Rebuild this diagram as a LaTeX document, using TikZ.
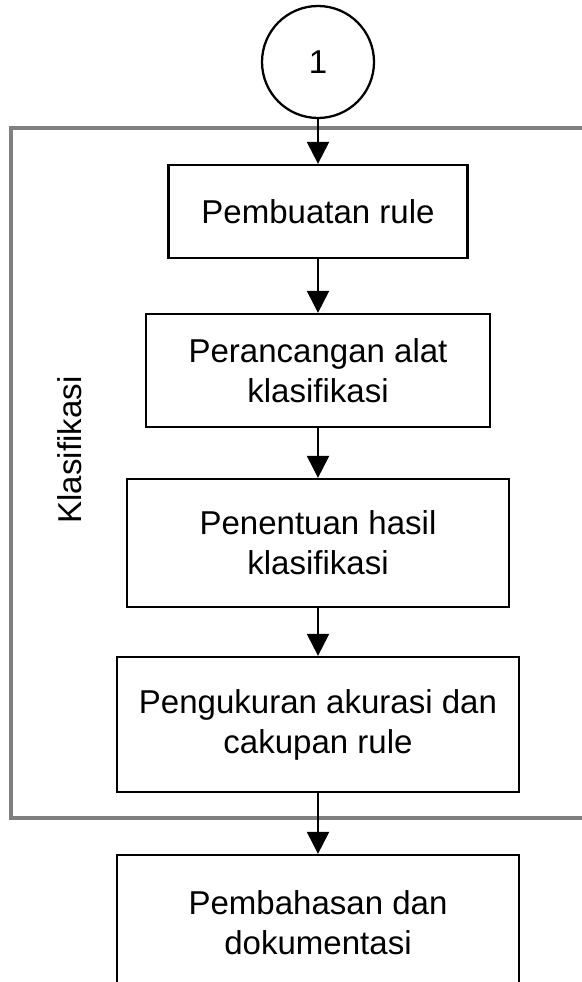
\documentclass[tikz,border=0pt]{standalone}
\usepackage{fontspec}
\setmainfont{Liberation Sans}
\usetikzlibrary{arrows.meta,positioning}
\definecolor{klsGrey}{HTML}{808080}
\tikzset{
  >={Triangle[length=4.4mm,width=4.4mm]},
  box/.style={draw=black, line width=1.3pt, fill=white,
              align=center, inner sep=2pt, font=\fontsize{18.8pt}{22.8pt}\selectfont},
  conn/.style={circle, draw=black, line width=1.3pt, fill=white,
              minimum size=22.4mm, inner sep=0pt, font=\fontsize{18.8pt}{22.8pt}\selectfont},
  lbl/.style={font=\fontsize{18.8pt}{22.8pt}\selectfont, rotate=90},
  frame/.style={draw=klsGrey, line width=2.8pt},
  flow/.style={->, draw=black, line width=1.3pt},
}
\begin{document}
\begin{tikzpicture}
        \path[use as bounding box,clip] (0,0) rectangle (11.64,-19.64);
        \draw[frame] (0.22,-2.56) rectangle (12.5,-16.36);
        \node[conn] (one) at (6.36,-1.24){1};
        \node[box,minimum width=5.98cm,minimum height=1.86cm] (rule) at (6.36,-4.23){Pembuatan rule};
        \node[box,minimum width=6.88cm,minimum height=2.26cm] (alat) at (6.36,-7.41){Perancangan alat\\klasifikasi};
        \node[box,minimum width=7.64cm,minimum height=2.56cm] (hasil) at (6.36,-10.86){Penentuan hasil\\klasifikasi};
        \node[box,minimum width=8.04cm,minimum height=2.7cm] (akurasi) at (6.36,-14.49){Pengukuran akurasi dan\\cakupan rule};
        \node[box,minimum width=8.04cm,minimum height=2.7cm] (bahas) at (6.36,-18.45){Pembahasan dan\\dokumentasi};
        \node[lbl] (kls) at (1.4,-9.0){Klasifikasi};
        \draw[flow](one)--(rule);\draw[flow](rule)--(alat);
        \draw[flow](alat)--(hasil);\draw[flow](hasil)--(akurasi);
        \draw[flow](akurasi)--(bahas);
      \end{tikzpicture}
\end{document}
